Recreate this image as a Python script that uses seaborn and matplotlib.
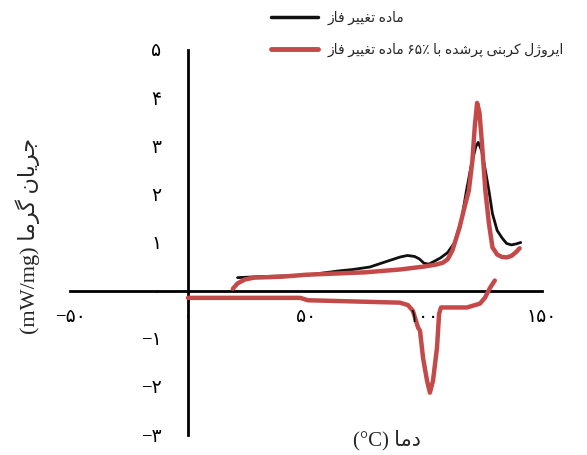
import matplotlib
matplotlib.use("Agg")
import matplotlib.pyplot as plt
import seaborn as sns
import pandas as pd
from matplotlib.lines import Line2D

# ---------------- data ----------------
pcm_temp = [21, 30, 50, 64, 70, 77, 85, 90, 93, 96, 98, 100, 102, 104, 107, 110, 113, 116,
            118, 120, 122, 123, 124.5, 126, 127.5, 129, 131, 133, 135, 137, 139, 141]
pcm_heat = [0.27, 0.29, 0.32, 0.41, 0.44, 0.49, 0.62, 0.70, 0.73, 0.71, 0.66, 0.57, 0.55, 0.60, 0.68,
            0.79, 1.0, 1.5, 2.08, 2.6, 3.0, 3.08, 2.9, 2.5, 2.08, 1.6, 1.25, 1.1, 0.98, 0.95, 0.97, 1.0]

comp_heat_temp = [19, 21, 24, 28, 40, 50, 60, 75, 90, 100, 105, 108, 110, 112, 115, 117, 119, 120.5,
                  121.5, 122.5, 123.5, 124.5, 126, 127.5, 129, 131, 133, 135, 137, 139, 140.5]
comp_heat = [0.04, 0.15, 0.23, 0.27, 0.29, 0.33, 0.35, 0.38, 0.44, 0.50, 0.54, 0.58, 0.65, 0.83, 1.3,
             1.7, 2.08, 2.7, 3.4, 3.9, 3.7, 3.1, 2.08, 1.4, 0.9, 0.75, 0.70, 0.69, 0.72, 0.80, 0.88]

comp_cool_temp = [0, 47.5, 50.8, 89.8, 93.2, 95.3, 97.5, 98.3, 99.6, 101.3, 102.5, 103.8, 105.5,
                  106.4, 107.2, 118.2, 123.7, 125.8, 128, 130]
comp_cool = [-0.15, -0.15, -0.2, -0.25, -0.3, -0.42, -0.77, -0.83, -1.4, -1.875, -2.12, -1.875,
             -1.19, -0.48, -0.35, -0.35, -0.27, -0.15, 0.06, 0.21]

x_ticks = [-50, 0, 50, 100, 150]
x_tick_labels = ["−۵۰", "۰", "۵۰", "۱۰۰", "۱۵۰"]
y_ticks = [-3, -2, -1, 0, 1, 2, 3, 4, 5]
y_tick_labels = ["−۳", "−۲", "−۱", "۰", "۱", "۲", "۳", "۴", "۵"]

legend_pcm = "ماده تغییر فاز"
legend_comp = "ایروژل کربنی پرشده با ۶۵٪ ماده تغییر فاز"
y_label = "جریان گرما (mW/mg)"
x_label = "دما (°C)"

# ---------------- simple Persian shaping for display ----------------
FORMS = {
    'ا': (0xFE8D, 0xFE8E), 'د': (0xFEA9, 0xFEAA), 'ر': (0xFEAD, 0xFEAE),
    'ز': (0xFEAF, 0xFEB0), 'ژ': (0xFB8A, 0xFB8B), 'و': (0xFEED, 0xFEEE),
    'ب': (0xFE8F, 0xFE90, 0xFE91, 0xFE92), 'پ': (0xFB56, 0xFB57, 0xFB58, 0xFB59),
    'ت': (0xFE95, 0xFE96, 0xFE97, 0xFE98), 'ج': (0xFE9D, 0xFE9E, 0xFE9F, 0xFEA0),
    'ش': (0xFEB5, 0xFEB6, 0xFEB7, 0xFEB8), 'غ': (0xFECD, 0xFECE, 0xFECF, 0xFED0),
    'ف': (0xFED1, 0xFED2, 0xFED3, 0xFED4), 'ک': (0xFB8E, 0xFB8F, 0xFB90, 0xFB91),
    'گ': (0xFB92, 0xFB93, 0xFB94, 0xFB95), 'ل': (0xFEDD, 0xFEDE, 0xFEDF, 0xFEE0),
    'م': (0xFEE1, 0xFEE2, 0xFEE3, 0xFEE4), 'ن': (0xFEE5, 0xFEE6, 0xFEE7, 0xFEE8),
    'ه': (0xFEE9, 0xFEEA, 0xFEEB, 0xFEEC), 'ی': (0xFBFC, 0xFBFD, 0xFBFE, 0xFBFF),
}


def shape_word(w):
    if not any(c in FORMS for c in w):
        return w
    out = []
    for i, ch in enumerate(w):
        if ch not in FORMS:
            out.append(ch)
            continue
        f = FORMS[ch]
        prev = w[i - 1] if i > 0 else None
        nxt = w[i + 1] if i < len(w) - 1 else None
        jp = prev is not None and prev in FORMS and len(FORMS[prev]) == 4
        jn = len(f) == 4 and nxt is not None and nxt in FORMS
        idx = 3 if (jp and jn) else 1 if jp else 2 if jn else 0
        out.append(chr(f[idx]))
    return ''.join(reversed(out))


def visual(s):
    return ' '.join(shape_word(w) for w in reversed(s.split(' ')))


# ---------------- plotting ----------------
sns.set_theme(style="white")
plt.rcParams['font.family'] = ['Liberation Serif', 'DejaVu Sans']
plt.rcParams['axes.unicode_minus'] = True

RED = '#c44a4a'
BLACK = '#101010'

fig = plt.figure(figsize=(5.87, 4.55), dpi=100)
ax = fig.add_axes([70 / 587, 20 / 455, 472 / 587, 385 / 455])

df_pcm = pd.DataFrame({'T': pcm_temp, 'Q': pcm_heat})
df_heat = pd.DataFrame({'T': comp_heat_temp, 'Q': comp_heat})
df_cool = pd.DataFrame({'T': comp_cool_temp, 'Q': comp_cool})

sns.lineplot(data=df_pcm, x='T', y='Q', ax=ax, color=BLACK, lw=2.0, sort=False,
             estimator=None, legend=False, zorder=3)
sns.lineplot(data=df_heat, x='T', y='Q', ax=ax, color=RED, lw=3.2, sort=False,
             estimator=None, legend=False, zorder=4)
sns.lineplot(data=df_cool, x='T', y='Q', ax=ax, color=RED, lw=3.2, sort=False,
             estimator=None, legend=False, zorder=4)

ax.set_xlim(-50, 150)
ax.set_ylim(-3, 5)
ax.set_xlabel('')
ax.set_ylabel('')

for side in ['top', 'right']:
    ax.spines[side].set_visible(False)
ax.spines['left'].set_position(('data', 0))
ax.spines['bottom'].set_position(('data', 0))
for side in ['left', 'bottom']:
    ax.spines[side].set_linewidth(2.0)
    ax.spines[side].set_color('black')
    ax.spines[side].set_zorder(2)

ax.set_xticks(x_ticks)
ax.set_xticklabels(x_tick_labels)
ax.set_yticks(y_ticks)
ax.set_yticklabels(y_tick_labels)
ax.tick_params(axis='both', direction='in', length=5, width=0.8, colors='black',
               labelsize=13.5)
ax.tick_params(axis='y', pad=19)
ax.tick_params(axis='x', pad=13)
ax.xaxis.set_zorder(5)

fig.text(28 / 587, 1 - 236 / 455, visual(y_label), rotation=90, ha='center', va='center',
         fontsize=16)
fig.text(387 / 587, 1 - 440 / 455, visual(x_label), ha='center', va='center', fontsize=15)

handles = [Line2D([], [], color=BLACK, lw=2.5), Line2D([], [], color=RED, lw=3.5)]
ax.legend(handles, [visual(legend_pcm), visual(legend_comp)], loc='upper left',
          bbox_to_anchor=(268 / 587, 1 - 8 / 455), bbox_transform=fig.transFigure,
          frameon=False, fontsize=10, handlelength=3.4, handletextpad=0.7,
          labelspacing=1.3, borderpad=0.2, borderaxespad=0)

fig.savefig('out.png', dpi=100)
